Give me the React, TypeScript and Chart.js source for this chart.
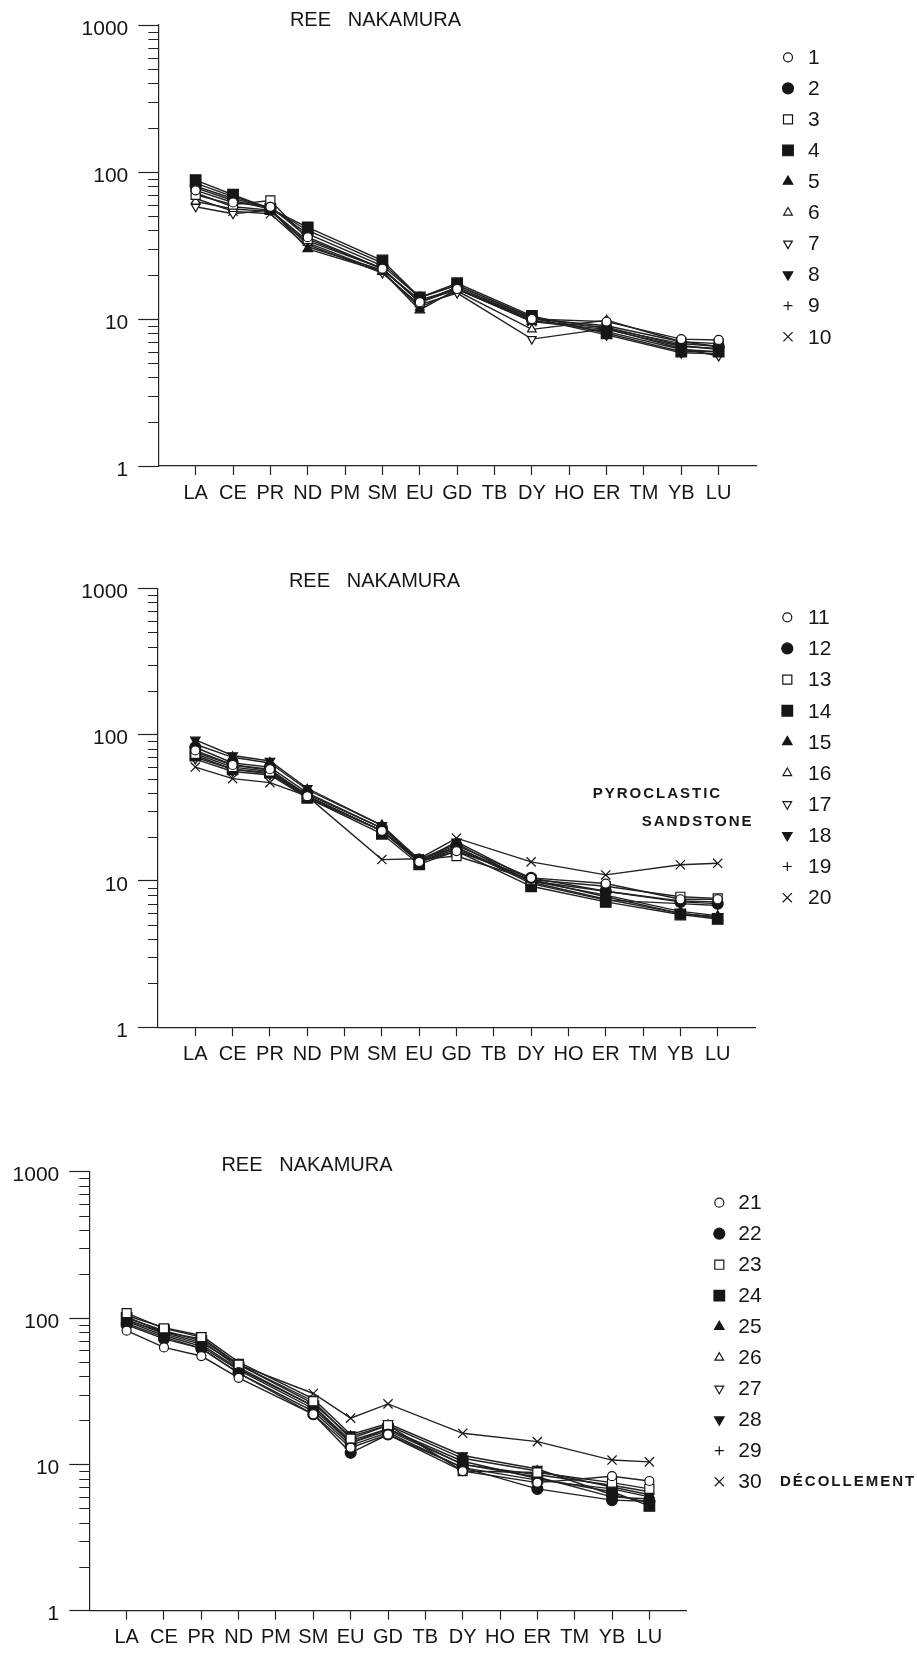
import React, { useEffect, useRef } from 'react';
import { Chart, registerables } from 'chart.js';

Chart.register(...registerables);

// ---------------- data ----------------
const CATEGORIES = ['LA', 'CE', 'PR', 'ND', 'PM', 'SM', 'EU', 'GD', 'TB', 'DY', 'HO', 'ER', 'TM', 'YB', 'LU'];
const Y_TICKS = [1, 10, 100, 1000];
const TITLE = 'REE   NAKAMURA';

// order: LA CE PR ND PM SM EU GD TB DY HO ER TM YB LU (null = not analysed)
const S1 = [75, 62, 58, 36, null, 22, 13, 16, null, 10, null, 9.6, null, 7.3, 7.2];
const S2 = [80, 66, 57, 38, null, 23, 14, 17, null, 10.3, null, 8.6, null, 6.8, 6.5];
const S3 = [70, 60, 64, 35, null, 22, 13, 16.5, null, 10, null, 9, null, 7, 6.8];
const S4 = [88, 70, 56, 42, null, 25, 14, 17.5, null, 10.5, null, 8, null, 6, 6];
const S5 = [78, 64, 56, 30, null, 21, 11.5, 16, null, 9.6, null, 8.5, null, 6.5, 6.3];
const S6 = [63, 56, 54, 33, null, 21, 12, 15.5, null, 8.5, null, 9.8, null, 7, 6.5];
const S7 = [58, 52, 55, 32, null, 20.5, 12.5, 15, null, 7.3, null, 8.6, null, 6.3, 5.6];
const S8 = [84, 68, 57, 40, null, 24, 14, 17, null, 10.2, null, 7.8, null, 5.9, 5.8];
const S9 = [72, 58, 55, 34, null, 22, 13, 16, null, 9.8, null, 8.2, null, 6.2, 6];
const S10 = [66, 54, 52, 31, null, 21.5, 13.5, 16, null, 9.6, null, 8.8, null, 6.6, 6.2];

const S11 = [78, 62, 58, 38, null, 22, 13.5, 16, null, 10.5, null, 9.6, null, 7.5, 7.5];
const S12 = [82, 64, 60, 40, null, 23, 14, 17.5, null, 10.5, null, 8.5, null, 7.2, 7.0];
const S13 = [74, 60, 56, 38, null, 22, 14, 14.8, null, 10.2, null, 9.2, null, 7.8, 7.6];
const S14 = [72, 58, 55, 37, null, 21, 13, 16, null, 9.2, null, 7.2, null, 5.9, 5.5];
const S15 = [86, 70, 64, 42, null, 24, 14, 18, null, 9.8, null, 7.5, null, 6.0, 5.6];
const S16 = [70, 58, 54, 38, null, 22, 13.5, 16.5, null, 10, null, 8, null, 6.2, 5.8];
const S17 = [68, 56, 53, 37, null, 22, 13.5, 17, null, 10, null, 8.5, null, 7.3, 7.2];
const S18 = [92, 72, 66, 43, null, 24, 13.5, 18.5, null, 10.2, null, 7.8, null, 6.0, 5.7];
const S19 = [76, 62, 57, 39, null, 23, 14, 17, null, 9.6, null, 7.4, null, 7.0, 6.8];
const S20 = [60, 50, 47, 38, null, 14, 14.2, 19.6, null, 13.5, null, 11, null, 12.9, 13.2];

const S21 = [82, 63, 55, 39, null, 22, 13, 16, null, 9.0, null, 7.5, null, 8.3, 7.7];
const S22 = [90, 72, 62, 42, null, 22, 12, 16, null, 9.5, null, 6.8, null, 5.7, 5.6];
const S23 = [108, 85, 74, 48, null, 27, 15, 18.5, null, 9.0, null, 8.8, null, 7.5, 6.8];
const S24 = [100, 82, 70, 46, null, 25, 14, 17.5, null, 10.5, null, 8.0, null, 6.5, 5.2];
const S25 = [96, 80, 72, 48, null, 26, 15.5, 18.5, null, 11, null, 9, null, 7, 6.2];
const S26 = [95, 76, 64, 44, null, 24, 14, 17, null, 10, null, 8.5, null, 7.2, 6.5];
const S27 = [92, 74, 62, 42, null, 23, 13.5, 16.5, null, 9.5, null, 7.8, null, 6.8, 6.0];
const S28 = [104, 86, 76, 50, null, 28, 16, 19, null, 11.5, null, 9.3, null, 6.2, 5.5];
const S29 = [98, 78, 66, 45, null, 25, 14.5, 17.5, null, 10, null, 8.2, null, 6, 5.8];
const S30 = [102, 80, 68, 48, null, 30.5, 20.7, 25.9, null, 16.3, null, 14.3, null, 10.7, 10.4];

const PANEL_1_SERIES = [S1, S2, S3, S4, S5, S6, S7, S8, S9, S10];
const PANEL_2_SERIES = [S11, S12, S13, S14, S15, S16, S17, S18, S19, S20];
const PANEL_3_SERIES = [S21, S22, S23, S24, S25, S26, S27, S28, S29, S30];

const PANEL_1_LABELS = ['1', '2', '3', '4', '5', '6', '7', '8', '9', '10'];
const PANEL_2_LABELS = ['11', '12', '13', '14', '15', '16', '17', '18', '19', '20'];
const PANEL_3_LABELS = ['21', '22', '23', '24', '25', '26', '27', '28', '29', '30'];

// ---------------- styles ----------------
const FONT = '"Liberation Sans", Arial, Helvetica, sans-serif';
const INK = '#161616';
const LINE = '#222222';
const MINOR_TICK = 10;

type Marker = { style: string; filled: boolean; r: number; rot: number };
const MARKERS: Marker[] = [
  { style: 'circle', filled: false, r: 4.5, rot: 0 },
  { style: 'circle', filled: true, r: 5.5, rot: 0 },
  { style: 'rect', filled: false, r: 6.4, rot: 0 },
  { style: 'rect', filled: true, r: 7.5, rot: 0 },
  { style: 'triangle', filled: true, r: 5.5, rot: 0 },
  { style: 'triangle', filled: false, r: 5, rot: 0 },
  { style: 'triangle', filled: false, r: 5, rot: 180 },
  { style: 'triangle', filled: true, r: 5.5, rot: 180 },
  { style: 'cross', filled: false, r: 4.5, rot: 0 },
  { style: 'crossRot', filled: false, r: 6.5, rot: 0 },
];

type Note = { text: string; x: number; y: number };
type Panel = {
  top: number; height: number;
  left: number; right: number; areaTop: number; areaBottom: number;
  titleX: number; titleY: number;
  legendSymX: number; legendTextX: number; legendY0: number; legendStep: number;
  series: (number | null)[][]; labels: string[]; notes: Note[];
};

const PANELS: Panel[] = [
  {
    top: 0, height: 530, left: 158.3, right: 756, areaTop: 25, areaBottom: 466,
    titleX: 375.5, titleY: 20,
    legendSymX: 788, legendTextX: 808, legendY0: 57.3, legendStep: 31.05,
    series: PANEL_1_SERIES, labels: PANEL_1_LABELS, notes: [],
  },
  {
    top: 540, height: 540, left: 158, right: 755, areaTop: 48.3, areaBottom: 487.3,
    titleX: 374.5, titleY: 41.7,
    legendSymX: 787.3, legendTextX: 808, legendY0: 77.3, legendStep: 31.15,
    series: PANEL_2_SERIES, labels: PANEL_2_LABELS,
    notes: [
      { text: 'PYROCLASTIC', x: 592.7, y: 254 },
      { text: 'SANDSTONE', x: 641.7, y: 282.3 },
    ],
  },
  {
    top: 1100, height: 553, left: 89.3, right: 686.7, areaTop: 71.7, areaBottom: 510.7,
    titleX: 307, titleY: 65,
    legendSymX: 719.3, legendTextX: 738.3, legendY0: 102.7, legendStep: 31.0,
    series: PANEL_3_SERIES, labels: PANEL_3_LABELS,
    notes: [{ text: 'DÉCOLLEMENT', x: 780, y: 382.3 }],
  },
];

const X_AXIS_H = 40;

function drawMarker(ctx: CanvasRenderingContext2D, m: Marker, x: number, y: number) {
  ctx.save();
  ctx.lineWidth = 1.2;
  ctx.strokeStyle = INK;
  ctx.fillStyle = m.filled ? INK : '#ffffff';
  const r = m.r;
  let rad = (m.rot * Math.PI) / 180;
  ctx.beginPath();
  if (m.style === 'circle') {
    ctx.arc(x, y, r, 0, Math.PI * 2);
    ctx.closePath();
    ctx.fill();
    ctx.stroke();
  } else if (m.style === 'rect') {
    const s = r * Math.SQRT1_2;
    ctx.rect(x - s, y - s, 2 * s, 2 * s);
    ctx.fill();
    ctx.stroke();
  } else if (m.style === 'triangle') {
    ctx.moveTo(x + Math.sin(rad) * r, y - Math.cos(rad) * r);
    rad += (2 * Math.PI) / 3;
    ctx.lineTo(x + Math.sin(rad) * r, y - Math.cos(rad) * r);
    rad += (2 * Math.PI) / 3;
    ctx.lineTo(x + Math.sin(rad) * r, y - Math.cos(rad) * r);
    ctx.closePath();
    ctx.fill();
    ctx.stroke();
  } else if (m.style === 'cross') {
    ctx.moveTo(x, y - r);
    ctx.lineTo(x, y + r);
    ctx.moveTo(x - r, y);
    ctx.lineTo(x + r, y);
    ctx.stroke();
  } else if (m.style === 'crossRot') {
    const o = Math.cos(Math.PI / 4) * r;
    ctx.moveTo(x - o, y - o);
    ctx.lineTo(x + o, y + o);
    ctx.moveTo(x + o, y - o);
    ctx.lineTo(x - o, y + o);
    ctx.stroke();
  }
  ctx.restore();
}

function decorPlugin(panel: Panel) {
  return {
    id: 'decor',
    afterDraw(chart: any) {
      const ctx: CanvasRenderingContext2D = chart.ctx;
      const yScale = chart.scales.y;
      const area = chart.chartArea;
      ctx.save();
      // minor ticks of the log axis
      ctx.strokeStyle = LINE;
      ctx.lineWidth = 1;
      ctx.beginPath();
      for (let d = 1; d < 1000; d *= 10) {
        for (let k = 2; k <= 9; k++) {
          const py = Math.round(yScale.getPixelForValue(k * d)) + 0.5;
          ctx.moveTo(area.left - MINOR_TICK, py);
          ctx.lineTo(area.left, py);
        }
      }
      ctx.stroke();

      // title
      ctx.fillStyle = INK;
      ctx.font = `20px ${FONT}`;
      ctx.textAlign = 'center';
      ctx.textBaseline = 'middle';
      ctx.fillText(TITLE, panel.titleX, panel.titleY);

      // legend
      ctx.font = `21px ${FONT}`;
      ctx.textAlign = 'left';
      panel.labels.forEach((lab, i) => {
        const yy = panel.legendY0 + i * panel.legendStep;
        drawMarker(ctx, MARKERS[i], panel.legendSymX, yy);
        ctx.fillStyle = INK;
        ctx.fillText(lab, panel.legendTextX, yy + 1);
      });

      // notes
      ctx.font = `bold 15px ${FONT}`;
      (ctx as any).letterSpacing = '2px';
      panel.notes.forEach((n) => {
        ctx.fillText(n.text, n.x, n.y);
      });
      (ctx as any).letterSpacing = '0px';
      ctx.restore();
    },
  };
}

function buildConfig(panel: Panel): any {
  const yAxisW = panel.left - 2;
  const datasets = panel.series.map((values, i) => {
    const m = MARKERS[i];
    return {
      label: panel.labels[i],
      data: values.flatMap((v, idx) => (v == null ? [] : [{ x: idx, y: v }])),
      borderColor: LINE,
      borderWidth: 1.4,
      tension: 0,
      fill: false,
      pointStyle: m.style,
      pointRadius: m.r,
      pointRotation: m.rot,
      pointBackgroundColor: m.filled ? INK : '#ffffff',
      pointBorderColor: INK,
      pointBorderWidth: 1.2,
    };
  });
  return {
    type: 'line',
    data: { datasets },
    options: {
      responsive: false,
      animation: false,
      devicePixelRatio: 1,
      events: [],
      layout: {
        padding: {
          left: panel.left - yAxisW,
          right: 917 - panel.right,
          top: panel.areaTop,
          bottom: panel.height - panel.areaBottom - X_AXIS_H,
        },
      },
      plugins: {
        legend: { display: false },
        tooltip: { enabled: false },
        title: { display: false },
      },
      scales: {
        x: {
          type: 'linear',
          min: -1,
          max: 15,
          afterBuildTicks: (s: any) => {
            s.ticks = CATEGORIES.map((_, i) => ({ value: i }));
          },
          afterFit: (s: any) => {
            s.height = X_AXIS_H;
          },
          ticks: {
            autoSkip: false,
            maxRotation: 0,
            minRotation: 0,
            padding: 6,
            color: INK,
            font: { family: FONT, size: 20 },
            callback: (v: any) => CATEGORIES[v] ?? '',
          },
          grid: { drawOnChartArea: false, tickLength: 9, tickColor: LINE, tickWidth: 1.2 },
          border: { display: true, color: LINE, width: 1.2 },
        },
        y: {
          type: 'logarithmic',
          min: 1,
          max: 1000,
          afterBuildTicks: (s: any) => {
            s.ticks = Y_TICKS.map((v) => ({ value: v, major: true }));
          },
          afterFit: (s: any) => {
            s.width = yAxisW;
          },
          ticks: {
            padding: 10,
            labelOffset: 4,
            color: INK,
            font: { family: FONT, size: 21 },
            callback: (v: any) => String(v),
          },
          grid: { drawOnChartArea: false, tickLength: 20, tickColor: LINE, tickWidth: 1.2 },
          border: { display: true, color: LINE, width: 1.2 },
        },
      },
    },
    plugins: [decorPlugin(panel)],
  };
}

function PanelChart({ panel }: { panel: Panel }) {
  const ref = useRef<HTMLCanvasElement>(null);
  useEffect(() => {
    if (!ref.current) return;
    const chart = new Chart(ref.current, buildConfig(panel));
    return () => chart.destroy();
  }, [panel]);
  return (
    <canvas
      ref={ref}
      width={917}
      height={panel.height}
      style={{ position: 'absolute', left: 0, top: panel.top, width: 917, height: panel.height }}
    />
  );
}

export default function App() {
  return (
    <div style={{ position: 'absolute', left: 0, top: 0, width: 917, height: 1653, background: '#ffffff' }}>
      {PANELS.map((p, i) => (
        <PanelChart key={i} panel={p} />
      ))}
    </div>
  );
}
